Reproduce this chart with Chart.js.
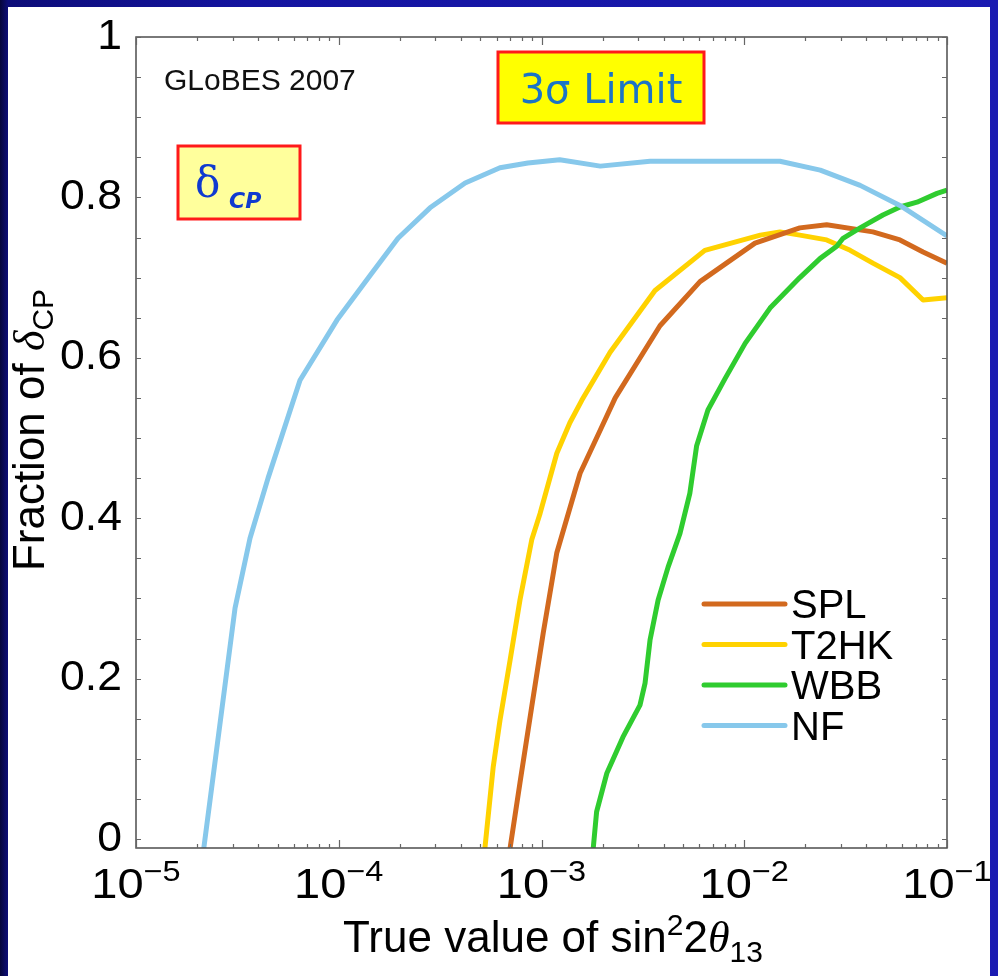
<!DOCTYPE html>
<html>
<head>
<meta charset="utf-8">
<script src="https://cdn.jsdelivr.net/npm/chart.js@4.4.1/dist/chart.umd.min.js"></script>
<style>
html,body{margin:0;padding:0;width:998px;height:976px;overflow:hidden;}
body{position:relative;background:linear-gradient(to right,#05053a 0px,#0d0d78 8px,#1414a0 25%,#1b1bb2 100%);}
#panel{position:absolute;left:8px;top:7px;width:982px;height:969px;background:#ffffff;}
#c{position:absolute;left:0;top:0;}
</style>
</head>
<body>
<div id="panel"></div>
<canvas id="c" width="998" height="976"></canvas>
<script>
// ---------------- data ----------------
const seriesNames = ['SPL', 'T2HK', 'WBB', 'NF'];

const splX = [7.0e-4, 7.83e-4, 8.95e-4, 1.02e-3, 1.19e-3, 1.55e-3, 1.95e-3, 2.31e-3, 3.84e-3, 6.05e-3, 1.13e-2, 1.88e-2, 2.55e-2, 4.31e-2, 5.86e-2, 7.62e-2, 0.1];
const splY = [-0.0112, 0.070, 0.165, 0.257, 0.357, 0.456, 0.510, 0.550, 0.640, 0.695, 0.743, 0.762, 0.766, 0.757, 0.747, 0.732, 0.718];

const t2hkX = [5.26e-4, 5.78e-4, 6.24e-4, 7.0e-4, 7.83e-4, 8.95e-4, 9.84e-4, 1.19e-3, 1.38e-3, 1.58e-3, 2.18e-3, 3.63e-3, 6.39e-3, 1.2e-2, 1.5e-2, 1.88e-2, 2.55e-2, 3.33e-2, 4.31e-2, 5.86e-2, 7.62e-2, 0.1];
const t2hkY = [-0.0112, 0.090, 0.148, 0.223, 0.298, 0.373, 0.406, 0.481, 0.519, 0.547, 0.607, 0.684, 0.734, 0.753, 0.757, 0.753, 0.747, 0.734, 0.718, 0.700, 0.672, 0.675];

const wbbX = [1.80e-3, 1.87e-3, 2.10e-3, 2.52e-3, 3.06e-3, 3.24e-3, 3.43e-3, 3.76e-3, 4.21e-3, 4.82e-3, 5.39e-3, 5.82e-3, 6.62e-3, 8.04e-3, 1.01e-2, 1.34e-2, 1.88e-2, 2.37e-2, 2.86e-2, 3.07e-2, 3.73e-2, 4.83e-2, 5.86e-2, 7.11e-2, 8.93e-2, 0.1];
const wbbY = [-0.0112, 0.034, 0.082, 0.127, 0.167, 0.194, 0.248, 0.298, 0.339, 0.381, 0.431, 0.490, 0.535, 0.574, 0.618, 0.662, 0.700, 0.724, 0.739, 0.749, 0.762, 0.778, 0.788, 0.794, 0.805, 0.809];

const nfX = [2.16e-5, 3.08e-5, 3.65e-5, 4.48e-5, 6.44e-5, 9.8e-5, 1.43e-4, 1.96e-4, 2.82e-4, 4.2e-4, 6.24e-4, 8.57e-4, 1.23e-3, 1.95e-3, 3.43e-3, 6.05e-3, 1.5e-2, 2.37e-2, 3.73e-2, 5.86e-2, 0.1];
const nfY = [-0.0112, 0.288, 0.375, 0.450, 0.572, 0.647, 0.703, 0.749, 0.787, 0.818, 0.837, 0.843, 0.847, 0.839, 0.845, 0.845, 0.845, 0.834, 0.815, 0.790, 0.752];

const yTickValues = [0, 0.2, 0.4, 0.6, 0.8, 1];
const yTickLabels = ['0', '0.2', '0.4', '0.6', '0.8', '1'];
const xTickExponents = [-5, -4, -3, -2, -1];

const textGlobes = 'GLoBES 2007';
const textLimit = '3\u03C3 Limit';

// ---------------- styling ----------------
const SANS = '"Liberation Sans", Arial, Helvetica, sans-serif';
const SERIF = '"Liberation Serif", "Times New Roman", serif';
const colors = ['#d2691e', '#ffd200', '#2fcc2f', '#87c8eb'];
const orders = [2, 3, 1, 0];

function pts(xs, ys) { return xs.map((x, i) => ({ x: x, y: ys[i] })); }
const seriesData = [pts(splX, splY), pts(t2hkX, t2hkY), pts(wbbX, wbbY), pts(nfX, nfY)];

function runs(ctx, x, y, parts) {
  let total = 0;
  parts.forEach(p => { ctx.font = p.font; p.w = ctx.measureText(p.t).width; total += p.w; });
  let cx = x - total / 2;
  parts.forEach(p => { ctx.font = p.font; ctx.fillText(p.t, cx, y + (p.dy || 0)); cx += p.w; });
}

const decor = {
  id: 'decor',
  afterDatasetsDraw(chart) {
    const ctx = chart.ctx, a = chart.chartArea, xs = chart.scales.x, ys = chart.scales.y;
    ctx.save();
    // frame
    ctx.strokeStyle = '#4d4d4d';
    ctx.lineWidth = 1.5;
    ctx.strokeRect(a.left, a.top, a.right - a.left, a.bottom - a.top);
    // y ticks (inward, both sides)
    ctx.lineWidth = 1.2;
    ctx.strokeStyle = '#666';
    ctx.beginPath();
    for (let k = 0; k <= 20; k++) {
      const py = Math.round(ys.getPixelForValue(k * 0.05)) + 0.5;
      ctx.moveTo(a.left, py); ctx.lineTo(a.left + 5, py);
      ctx.moveTo(a.right, py); ctx.lineTo(a.right - 5, py);
    }
    // x ticks (inward, top and bottom)
    for (let e = -5; e <= -1; e++) {
      for (let m = 1; m <= 9; m++) {
        const v = m * Math.pow(10, e);
        if (v > 0.1 * 1.0001) continue;
        const px = Math.round(xs.getPixelForValue(v)) + 0.5;
        const len = (m === 1) ? 8 : 4;
        ctx.moveTo(px, a.bottom); ctx.lineTo(px, a.bottom - len);
        ctx.moveTo(px, a.top); ctx.lineTo(px, a.top + len);
      }
    }
    ctx.stroke();

    ctx.fillStyle = '#000';
    // y tick labels
    ctx.textAlign = 'right';
    ctx.textBaseline = 'middle';
    yTickValues.forEach((v, i) => {
      ctx.save();
      ctx.translate(a.left - 14, ys.getPixelForValue(v));
      ctx.scale(1.06, 1);
      ctx.font = '42px ' + SANS;
      ctx.fillText(yTickLabels[i], 0, 0);
      ctx.restore();
    });
    // x tick labels 10^e
    ctx.textAlign = 'left';
    ctx.textBaseline = 'alphabetic';
    xTickExponents.forEach(e => {
      const px = xs.getPixelForValue(Math.pow(10, e));
      ctx.save();
      ctx.translate(px, a.bottom + 50);
      ctx.scale(1.12, 1);
      runs(ctx, 0, 0, [
        { t: '10', font: '42px ' + SANS },
        { t: '\u2212' + Math.abs(e), font: '29px ' + SANS, dy: -17 }
      ]);
      ctx.restore();
    });
    // x axis title
    runs(ctx, 553, 952, [
      { t: 'True value of sin', font: '44px ' + SANS },
      { t: '2', font: '30px ' + SANS, dy: -17 },
      { t: '2', font: '44px ' + SANS },
      { t: '\u03B8', font: 'italic 44px ' + SERIF },
      { t: '13', font: '30px ' + SANS, dy: 10 }
    ]);
    // y axis title (rotated)
    ctx.save();
    ctx.translate(44, 430);
    ctx.rotate(-Math.PI / 2);
    runs(ctx, 0, 0, [
      { t: 'Fraction of ', font: '44px ' + SANS },
      { t: '\u03B4', font: 'italic 44px ' + SERIF },
      { t: 'CP', font: '30px ' + SANS, dy: 9 }
    ]);
    ctx.restore();

    // legend
    chart.data.datasets.forEach((ds, i) => {
      const ly = 604 + 40.5 * i;
      ctx.strokeStyle = ds.borderColor;
      ctx.lineWidth = 5;
      ctx.lineCap = 'round';
      ctx.beginPath(); ctx.moveTo(704, ly); ctx.lineTo(785, ly); ctx.stroke();
      ctx.fillStyle = '#000';
      ctx.font = '40px ' + SANS;
      ctx.textAlign = 'left';
      ctx.fillText(ds.label, 791, ly + 14);
    });

    // GLoBES label
    ctx.font = '30px ' + SANS;
    ctx.fillStyle = '#111';
    ctx.fillText(textGlobes, 164, 90);

    // 3 sigma box
    ctx.fillStyle = '#ffff00';
    ctx.fillRect(498, 52, 206, 71);
    ctx.strokeStyle = '#ff1a1a';
    ctx.lineWidth = 3;
    ctx.lineCap = 'butt';
    ctx.strokeRect(498, 52, 206, 71);
    ctx.fillStyle = '#1c74c6';
    ctx.font = '40px "DejaVu Sans", sans-serif';
    ctx.textAlign = 'center';
    ctx.fillText(textLimit, 601, 103);

    // delta CP box
    ctx.fillStyle = '#ffff9c';
    ctx.fillRect(178, 146, 122, 73);
    ctx.strokeRect(178, 146, 122, 73);
    ctx.fillStyle = '#0f3ad0';
    ctx.textAlign = 'left';
    ctx.font = '42px "DejaVu Serif", serif';
    ctx.fillText('\u03B4', 195, 197);
    ctx.font = 'italic bold 22px "DejaVu Sans", sans-serif';
    ctx.fillText('CP', 229, 208);
    ctx.restore();
  }
};

new Chart(document.getElementById('c'), {
  type: 'line',
  data: {
    datasets: seriesNames.map((n, i) => ({
      label: n,
      data: seriesData[i],
      borderColor: colors[i],
      backgroundColor: colors[i],
      borderWidth: 5,
      pointRadius: 0,
      tension: 0,
      fill: false,
      order: orders[i],
      borderJoinStyle: 'round'
    }))
  },
  options: {
    responsive: false,
    animation: false,
    devicePixelRatio: 1,
    layout: { padding: { left: 136, top: 37, right: 51, bottom: 128 } },
    plugins: { legend: { display: false }, tooltip: { enabled: false } },
    scales: {
      x: {
        type: 'logarithmic', min: 1e-5, max: 1e-1,
        grid: { display: false, drawTicks: false },
        border: { display: false },
        ticks: { display: false }
      },
      y: {
        type: 'linear', min: -0.0112, max: 1,
        grid: { display: false, drawTicks: false },
        border: { display: false },
        ticks: { display: false }
      }
    }
  },
  plugins: [decor]
});
</script>
</body>
</html>
